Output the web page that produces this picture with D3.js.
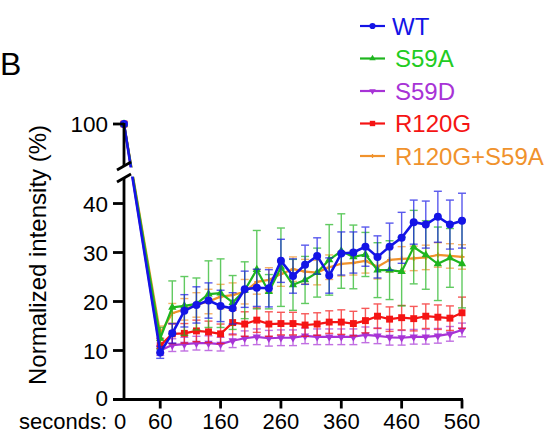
<!DOCTYPE html>
<html><head><meta charset="utf-8">
<script src="https://cdn.jsdelivr.net/npm/d3@7"></script>
<style>body{margin:0;background:#fff}svg{display:block;font-family:"Liberation Sans",Arial,sans-serif}</style>
</head><body><svg id="c" width="548" height="433"></svg>
<script>
const times = [0,60,80,100,120,140,160,180,200,220,240,260,280,300,320,340,360,380,400,420,440,460,480,500,520,540,560];
const xTicks = [60,160,260,360,460,560];
const yTicks = [0,10,20,30,40];
const seriesNames = ["WT","S59A","S59D","R120G","R120G+S59A"];
const wt    = [100,9.6,13.5,18.1,19.3,20.2,19.1,18.6,22.5,22.8,22.7,28.3,25.2,27.5,29.3,25.3,29.8,30,31.2,29.1,31.2,33,36.2,35.7,37.3,35.7,36.5];
const wtErr = [0,1.2,2,3.3,3.7,3.6,3.2,3.2,3.7,3.8,3.8,4.4,3.5,4,3.7,3.6,4.4,4.2,4,4.3,4.8,5.2,4.5,4.8,5.2,5,5.6];
const s59a    = [100,12.5,18.8,19.1,19.5,21.5,21.7,19.8,22.3,26.5,22,27,23.4,24.4,25.9,28.5,30.3,29.1,29.6,26.4,26.4,26.1,31.1,29.5,27.7,28.9,27.7];
const s59aErr = [0,2.2,5.4,6,5.3,6.8,7,5.5,5.8,8,3.5,8,5.2,4.8,5,7.2,7.6,6.5,4.5,5.6,6,7,7.5,7,7.5,6,9];
const s59d    = [100,10,11.1,11.3,11.5,11.5,11.3,12,12.5,12.8,12.5,12.6,12.6,13,12.8,12.8,12.8,12.8,13.2,13,12.7,12.6,12.8,12.8,13,13.4,14.2];
const s59dErr = [0,1,1.3,1.4,1.4,1.5,1.4,1.4,1.5,1.6,1.6,1.6,1.6,1.6,1.6,1.6,1.6,1.6,1.6,1.6,1.6,1.5,1.5,1.5,1.5,1.5,1.4];
const r120g    = [100,11,13.4,13.5,14,13.8,13.4,15.7,15.4,16.2,15.4,15.5,15.5,15.2,15.4,15.8,15.8,15.5,16.1,17,16.4,16.7,16.5,17,16.8,16.6,17.7];
const r120gErr = [0,1.5,2,2,2.2,2.2,2,2.5,2.5,2.5,2.5,2.3,2.3,2.3,2.3,2.3,2.5,2.5,2.5,2.5,2.5,2.5,2.5,2.5,2.5,2.5,3.2];
const r120gS59a    = [100,13.5,17.6,18.4,19.3,20,21,21.3,22,24,24.4,25.6,26.6,26.1,25.9,27,27.7,27.9,28.3,27.1,28.5,28.7,28.8,29,29.5,29.3,29.1];
const r120gS59aErr = [0,1.5,2,2.2,2.5,2.5,2.5,2.5,2.5,2.5,2.5,2.5,2.5,2.5,2.5,2.5,2.5,2.5,2.5,2.5,2.5,2.5,2.5,2.5,2.5,2.5,2.5];

const colors = {"WT":"#1414e6","S59A":"#1fb51f","S59D":"#a733d6","R120G":"#f51414","R120G+S59A":"#f0922c"};
const textColors = {"WT":"#1414e6","S59A":"#22cc22","S59D":"#a733d6","R120G":"#f51414","R120G+S59A":"#f0922c"};
const symbols = {"WT":d3.symbolCircle,"S59A":d3.symbolTriangle,"S59D":d3.symbolTriangle,"R120G":d3.symbolSquare,"R120G+S59A":d3.symbolCross};
const symSize = {"WT":50,"S59A":30,"S59D":30,"R120G":48,"R120G+S59A":14};
const series = [
  {name:"WT",v:wt,e:wtErr},
  {name:"S59A",v:s59a,e:s59aErr},
  {name:"S59D",v:s59d,e:s59dErr},
  {name:"R120G",v:r120g,e:r120gErr},
  {name:"R120G+S59A",v:r120gS59a,e:r120gS59aErr}
];
const drawOrder = ["R120G+S59A","S59D","R120G","S59A","WT"];

const svg = d3.select("#c");
svg.append("rect").attr("width",548).attr("height",433).attr("fill","#fff");

const x = d3.scaleLinear().domain([0,560]).range([124,462]);
const y = d3.scaleLinear().domain([0,44.8,92,100]).range([399.5,180,163,124]);

const g = svg.append("g");
drawOrder.forEach(n=>{
  const s = series.find(d=>d.name===n);
  const c = colors[n];
  const data = times.map((t,i)=>({t,v:s.v[i],e:s.e[i]}));
  const eg = g.append("g").attr("stroke",c).attr("stroke-width",1.4).attr("opacity",0.7);
  data.filter(d=>d.e>0).forEach(d=>{
    const xx=x(d.t);
    eg.append("line").attr("x1",xx).attr("x2",xx).attr("y1",y(d.v-d.e)).attr("y2",y(d.v+d.e));
    eg.append("line").attr("x1",xx-4).attr("x2",xx+4).attr("y1",y(d.v-d.e)).attr("y2",y(d.v-d.e));
    eg.append("line").attr("x1",xx-4).attr("x2",xx+4).attr("y1",y(d.v+d.e)).attr("y2",y(d.v+d.e));
  });
  g.append("path").datum(data).attr("fill","none").attr("stroke",c)
    .attr("stroke-width",n==="WT"?2.6:2.2).attr("stroke-linejoin","round")
    .attr("d",d3.line().x(d=>x(d.t)).y(d=>y(d.v)));
  g.selectAll(null).data(data).enter().append("path")
    .attr("transform",d=>`translate(${x(d.t)},${y(d.v)})${n==="S59D"?" rotate(180)":""}`)
    .attr("d",d3.symbol().type(symbols[n]).size(symSize[n]))
    .attr("fill",c);
});

svg.append("rect").attr("x",112).attr("y",167.5).attr("width",30).attr("height",9).attr("fill","#fff");

const ax = svg.append("g").attr("stroke","#000").attr("stroke-width",2.8).attr("fill","none");
ax.append("line").attr("x1",113).attr("x2",463).attr("y1",y(0)).attr("y2",y(0));
ax.append("line").attr("x1",x(0)).attr("x2",x(0)).attr("y1",y(0)).attr("y2",178);
ax.append("line").attr("x1",x(0)).attr("x2",x(0)).attr("y1",123).attr("y2",166);
yTicks.forEach(v=>ax.append("line").attr("x1",113).attr("x2",x(0)).attr("y1",y(v)).attr("y2",y(v)));
ax.append("line").attr("x1",113).attr("x2",x(0)).attr("y1",y(100)).attr("y2",y(100));
xTicks.forEach(t=>ax.append("line").attr("x1",x(t)).attr("x2",x(t)).attr("y1",y(0)).attr("y2",y(0)+9));
ax.append("line").attr("x1",x(0)-7).attr("y1",170).attr("x2",x(0)+7).attr("y2",162);
ax.append("line").attr("x1",x(0)-7).attr("y1",182).attr("x2",x(0)+7).attr("y2",174);

const tl = svg.append("g").attr("font-size",22.5).attr("fill","#000");
yTicks.forEach(v=>tl.append("text").attr("x",108).attr("y",y(v)).attr("dy",v===0?"0.28em":"0.36em").attr("text-anchor","end").text(v));
tl.append("text").attr("x",108).attr("y",y(100)).attr("dy","0.36em").attr("text-anchor","end").text(100);
const xl = svg.append("g").attr("font-size",22).attr("fill","#000");
xl.append("text").attr("x",x(0)-4).attr("y",428.5).attr("text-anchor","middle").text(0);
xTicks.forEach(t=>xl.append("text").attr("x",x(t)).attr("y",428.5).attr("text-anchor","middle").text(t));
xl.append("text").attr("x",107).attr("y",428.5).attr("text-anchor","end").text("seconds:");

svg.append("text").attr("transform","translate(46,255) rotate(-90)").attr("text-anchor","middle")
  .attr("font-size",24).text("Normalized intensity (%)");

svg.append("text").attr("x",0).attr("y",75).attr("font-size",32).text("B");

const lg = svg.append("g");
series.forEach((s,i)=>{
  const yy = 26 + i*32.5;
  const c = colors[s.name];
  lg.append("line").attr("x1",360).attr("x2",385).attr("y1",yy).attr("y2",yy).attr("stroke",c).attr("stroke-width",2.2);
  lg.append("path").attr("transform",`translate(372.5,${yy})${s.name==="S59D"?" rotate(180)":""}`)
    .attr("d",d3.symbol().type(symbols[s.name]).size(symSize[s.name]*0.6)).attr("fill",c);
  lg.append("text").attr("x",i===0?392:395).attr("y",yy+8.5).attr("font-size",24).attr("fill",textColors[s.name]).text(s.name);
});
</script></body></html>
